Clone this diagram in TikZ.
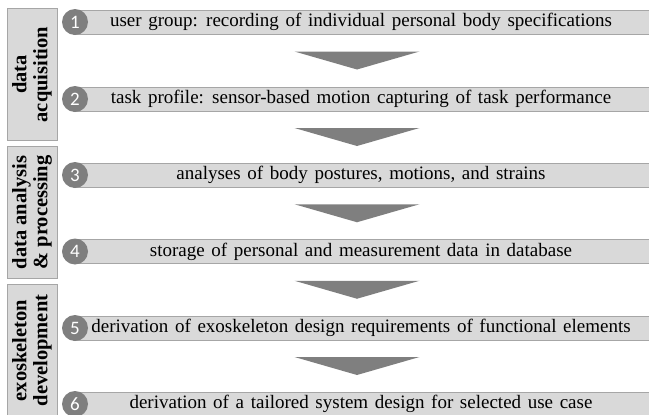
\documentclass[tikz,border=0pt]{standalone}
\usepackage{fontspec}
\setmainfont{Liberation Serif}
\newfontfamily\numfont{Carlito}
\usetikzlibrary{calc}
\definecolor{barfill}{HTML}{D9D9D9}
\definecolor{barline}{HTML}{A6A6A6}
\definecolor{darkgrey}{HTML}{7F7F7F}
\newcommand\barfont{\fontsize{19}{20}\selectfont\spaceskip=0.35em plus 0.1em\relax}

\begin{document}
\begin{tikzpicture}[x=1pt,y=-1pt,
    bar/.style={draw=barline,fill=barfill,line width=0.8pt,minimum height=24pt,
      minimum width=576pt,inner sep=0pt,font=\barfont},
    num/.style={circle,fill=darkgrey,text=white,minimum size=26pt,inner sep=0pt,
      font=\numfont\fontsize{19}{20}\selectfont},
    phase/.style={draw=barline,fill=barfill,line width=0.8pt,minimum width=132pt,
      minimum height=50pt,inner sep=0pt,rotate=90,align=center,
      font=\bfseries\fontsize{20.5}{21}\selectfont}]
  \useasboundingbox (0,0) rectangle (649,415);
  \clip (0,0) rectangle (649,415);

  % phases on the left
  \node[phase] (phase1) at (32,74.5) {data\\acquisition};
  \node[phase] (phase2) at (32,212.5) {data analysis\\\& processing};
  \node[phase] (phase3) at (32,350.5) {exoskeleton\\development};

  % steps
  \foreach \i/\y/\txt in {
      1/22/{user group: recording of individual personal body specifications},
      2/99/{task profile: sensor-based motion capturing of task performance},
      3/175/{analyses of body postures, motions, and strains},
      4/251.5/{storage of personal and measurement data in database},
      5/328/{derivation of exoskeleton design requirements of functional elements},
      6/404/{derivation of a tailored system design for selected use case}}{
    \node[bar] (step\i) at (361,\y) {\txt};
    \node[num] (num\i) at (75,\y) {\i};
  }

  % arrows between the steps
  \foreach \i [evaluate=\i as \j using int(\i+1)] in {1,...,5}{
    \coordinate (m) at ($(step\i.south)!0.5!(step\j.north)$);
    \fill[darkgrey] ([xshift=-66.5pt,yshift=9pt]m) -- ([xshift=58.5pt,yshift=9pt]m)
      -- ([xshift=-4pt,yshift=-9pt]m) -- cycle;
  }
\end{tikzpicture}
\end{document}
